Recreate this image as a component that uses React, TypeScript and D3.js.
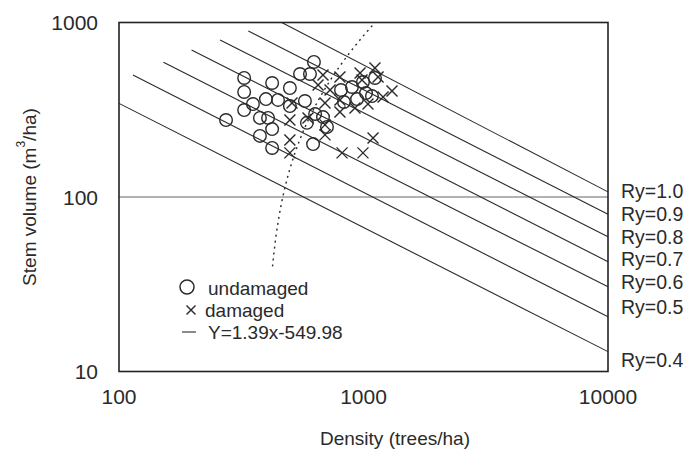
import React from "react";
import * as d3 from "d3";

const xTicks = [100, 1000, 10000];
const yTicks = [10, 100, 1000];

const ryLabels = ["Ry=0.4", "Ry=0.5", "Ry=0.6", "Ry=0.7", "Ry=0.8", "Ry=0.9", "Ry=1.0"];
const ryStartDensity = [100, 114, 152, 198, 259, 338, 463];
const ryStartVolume = [344, 500, 591, 696, 794, 894, 1000];
const ryEndVolume = [13.0, 20.6, 30.6, 42.6, 59.2, 79.6, 107];

const undamagedDensity = [627, 550, 604, 325, 423, 325, 500, 399, 353, 447, 325, 377, 407, 274, 500, 576, 423, 377, 423, 622, 634, 709, 683, 587, 809, 897, 995, 1024, 941, 832, 1114, 1083];
const undamagedVolume = [594, 507, 507, 481, 450, 400, 421, 364, 341, 360, 315, 284, 284, 276, 332, 355, 245, 224, 191, 201, 299, 252, 287, 266, 410, 427, 456, 394, 364, 350, 481, 379];

const damagedDensity = [683, 801, 968, 1114, 986, 1147, 1308, 801, 801, 923, 1043, 1202, 730, 510, 500, 500, 500, 817, 995, 1094, 696, 696, 593, 696, 652];
const damagedVolume = [500, 487, 514, 549, 468, 487, 405, 360, 307, 324, 341, 374, 410, 346, 276, 212, 179, 179, 179, 218, 227, 259, 284, 346, 438];

const fitSlope = 1.39;
const fitIntercept = -549.98;
const fitVolumeRange = [40, 1000];

const legendLabels = ["undamaged", "damaged", "Y=1.39x-549.98"];

const FONT = "'Liberation Sans', Arial, sans-serif";
const INK = "#2a2a2a";

export default function App() {
  const W = 699;
  const H = 452;
  const L = 119, R = 608, T = 22.5, B = 371.5;
  const x = d3.scaleLog().domain([100, 10000]).range([L, R]);
  const y = d3.scaleLog().domain([10, 1000]).range([B, T]);

  const line = d3.line<[number, number]>().x(d => x(d[0])).y(d => y(d[1]));

  const rhoLo = (fitVolumeRange[0] - fitIntercept) / fitSlope;
  const rhoHi = (fitVolumeRange[1] - fitIntercept) / fitSlope;
  const fitPts: [number, number][] = d3.range(0, 61).map(i => {
    const r = Math.exp(Math.log(rhoLo) + (Math.log(rhoHi) - Math.log(rhoLo)) * i / 60);
    return [r, fitSlope * r + fitIntercept];
  });

  const labelNudge = [8.4, -9.7, -5.2, -2.7, -0.2, -0.3, -0.4];

  const cross = (cx: number, cy: number, s: number, k: string) => (
    <g key={k} stroke={INK} strokeWidth={1.4}>
      <line x1={cx - s} y1={cy - s} x2={cx + s} y2={cy + s} />
      <line x1={cx - s} y1={cy + s} x2={cx + s} y2={cy - s} />
    </g>
  );

  return (
    <svg width={W} height={H} style={{ position: "absolute", left: 0, top: 0, background: "#fff" }} fontFamily={FONT}>
      <rect x={0} y={0} width={W} height={H} fill="#fff" />
      <line x1={L} x2={R} y1={y(100)} y2={y(100)} stroke="#666" strokeWidth={1} />
      {ryLabels.map((lab, i) => (
        <path key={lab} d={line([[ryStartDensity[i], ryStartVolume[i]], [10000, ryEndVolume[i]]]) || ""} fill="none" stroke={INK} strokeWidth={1.1} />
      ))}
      <path d={line(fitPts) || ""} fill="none" stroke={INK} strokeWidth={1.4} strokeDasharray="2 4" />
      {undamagedDensity.map((d, i) => (
        <circle key={"u" + i} cx={x(d)} cy={y(undamagedVolume[i])} r={6.3} fill="none" stroke={INK} strokeWidth={1.4} />
      ))}
      {damagedDensity.map((d, i) => cross(x(d), y(damagedVolume[i]), 5.5, "d" + i))}
      <rect x={L} y={T} width={R - L} height={B - T} fill="none" stroke="#222" strokeWidth={1.6} />
      {yTicks.map(t => (
        <text key={"y" + t} x={98} y={y(t)} textAnchor="end" dominantBaseline="central" fontSize={21} fill={INK}>{t}</text>
      ))}
      {xTicks.map(t => (
        <text key={"x" + t} x={x(t)} y={396} textAnchor="middle" dominantBaseline="central" fontSize={21} fill={INK}>{t}</text>
      ))}
      <text x={395} y={438} textAnchor="middle" dominantBaseline="central" fontSize={19} fill={INK}>Density (trees/ha)</text>
      <text transform={`translate(29,197) rotate(-90)`} textAnchor="middle" dominantBaseline="central" fontSize={19} fill={INK}>
        Stem volume (m<tspan dy={-8} fontSize={12}>3</tspan><tspan dy={8}>/ha)</tspan>
      </text>
      {ryLabels.map((lab, i) => (
        <text key={"l" + lab} x={621} y={y(ryEndVolume[i]) + labelNudge[i]} dominantBaseline="central" fontSize={19.5} fill={INK}>{lab}</text>
      ))}
      <circle cx={187} cy={287} r={7} fill="none" stroke={INK} strokeWidth={1.5} />
      <text x={208} y={288} dominantBaseline="central" fontSize={19} fill={INK}>{legendLabels[0]}</text>
      {cross(191, 310, 4.5, "leg")}
      <text x={205} y={310} dominantBaseline="central" fontSize={19} fill={INK}>{legendLabels[1]}</text>
      <line x1={182} x2={196} y1={332} y2={332} stroke={INK} strokeWidth={1.1} />
      <text x={208} y={332} dominantBaseline="central" fontSize={19} fill={INK}>{legendLabels[2]}</text>
    </svg>
  );
}
